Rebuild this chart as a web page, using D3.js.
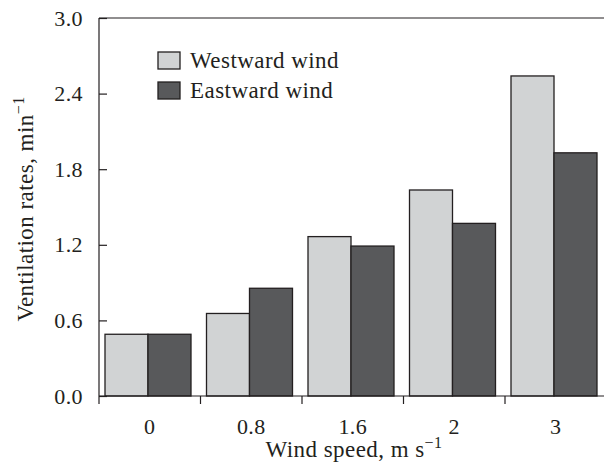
<!DOCTYPE html>
<html>
<head>
<meta charset="utf-8">
<script src="https://cdn.jsdelivr.net/npm/d3@7"></script>
<style>
    body { margin: 0; background: #fff; }
    text { font-family: "Liberation Serif", "Times New Roman", serif; fill: #231f20; }
</style>
</head>
<body>
<svg id="chart" width="604" height="470"></svg>
<script>
// Data
var speeds = ['0', '0.8', '1.6', '2', '3'];
var seriesNames = ['Westward wind', 'Eastward wind'];
var westward = [0.49, 0.655, 1.265, 1.635, 2.54];
var eastward = [0.49, 0.855, 1.19, 1.37, 1.93];
var yTicks = [0.0, 0.6, 1.2, 1.8, 2.4, 3.0];

var COLORS = ['#d1d3d4', '#58595b'],
    INK = '#231f20',
    TICK_SIZE = 22,
    LABEL_SIZE = 23,
    SPACING = 0.45,
    PLOT = { left: 99, right: 606.5, top: 18, bottom: 396 };

var svg = d3.select('#chart');

var rows = speeds.map(function(s, i) {
    return { speed: s, values: [westward[i], eastward[i]] };
});

var x = d3.scaleBand()
    .domain(speeds)
    .range([PLOT.left, PLOT.right])
    .padding(0);

// Bars sit slightly left of centre inside each category
var x1 = d3.scaleBand()
    .domain([0, 1])
    .range([6, 6 + 86])
    .padding(0);

var y = d3.scaleLinear()
    .domain([0, 3])
    .range([PLOT.bottom, PLOT.top]);

// Bars
var groups = svg.append('g')
    .selectAll('g')
    .data(rows)
    .enter()
    .append('g')
    .attr('transform', function(d) { return 'translate(' + x(d.speed) + ',0)'; });

groups.selectAll('rect')
    .data(function(d) { return d.values; })
    .enter()
    .append('rect')
    .attr('x', function(d, i) { return x1(i); })
    .attr('y', function(d) { return y(d); })
    .attr('width', x1.bandwidth())
    .attr('height', function(d) { return y(0) - y(d); })
    .attr('fill', function(d, i) { return COLORS[i]; })
    .attr('stroke', INK)
    .attr('stroke-width', 1.3);

// Frame: left, top and bottom lines
svg.append('line')
    .attr('x1', PLOT.left).attr('x2', PLOT.left)
    .attr('y1', PLOT.top).attr('y2', PLOT.bottom + 8)
    .attr('stroke', INK).attr('stroke-width', 1.2);

svg.append('line')
    .attr('x1', PLOT.left).attr('x2', 604)
    .attr('y1', PLOT.top).attr('y2', PLOT.top)
    .attr('stroke', INK).attr('stroke-width', 1.2);

svg.append('line')
    .attr('x1', PLOT.left).attr('x2', 604)
    .attr('y1', PLOT.bottom).attr('y2', PLOT.bottom)
    .attr('stroke', INK).attr('stroke-width', 1.2);

// Y axis, ticks pointing inward
var yAxis = svg.append('g')
    .attr('transform', 'translate(' + PLOT.left + ',0)')
    .call(d3.axisLeft(y)
        .tickValues(yTicks)
        .tickFormat(d3.format('.1f'))
        .tickSize(-8)
        .tickPadding(16));

yAxis.attr('font-family', null);
yAxis.select('.domain').remove();
yAxis.selectAll('line').attr('stroke', INK).attr('stroke-width', 1.2);
yAxis.selectAll('text')
    .attr('font-size', TICK_SIZE)
    .attr('letter-spacing', 0.4)
    .attr('fill', INK);

// X axis: labels at centres, ticks at category boundaries
var xAxis = svg.append('g')
    .attr('transform', 'translate(0,' + PLOT.bottom + ')')
    .call(d3.axisBottom(x).tickSize(0).tickPadding(0));

xAxis.attr('font-family', null);
xAxis.select('.domain').remove();
xAxis.selectAll('text')
    .attr('y', 38)
    .attr('dy', null)
    .attr('font-size', TICK_SIZE)
    .attr('letter-spacing', 0.4)
    .attr('fill', INK);

svg.append('g')
    .selectAll('line')
    .data(speeds.slice(1))
    .enter()
    .append('line')
    .attr('x1', function(d) { return x(d); })
    .attr('x2', function(d) { return x(d); })
    .attr('y1', PLOT.bottom)
    .attr('y2', PLOT.bottom + 8)
    .attr('stroke', INK)
    .attr('stroke-width', 1.2);

// Axis titles with superscript -1
var xTitle = svg.append('text')
    .attr('x', 354)
    .attr('y', 457)
    .attr('text-anchor', 'middle')
    .attr('letter-spacing', SPACING)
    .attr('font-size', LABEL_SIZE);
xTitle.append('tspan').text('Wind speed, m s');
xTitle.append('tspan').attr('dy', -9).attr('font-size', 16).text('\u22121');

var yTitle = svg.append('text')
    .attr('transform', 'translate(33,' + 209 + ') rotate(-90)')
    .attr('text-anchor', 'middle')
    .attr('letter-spacing', SPACING)
    .attr('font-size', LABEL_SIZE);
yTitle.append('tspan').text('Ventilation rates, min');
yTitle.append('tspan').attr('dy', -9).attr('font-size', 16).text('\u22121');

// Legend
var legend = svg.append('g')
    .selectAll('g')
    .data(seriesNames)
    .enter()
    .append('g')
    .attr('transform', function(d, i) { return 'translate(158,' + (52 + i * 30) + ')'; });

legend.append('rect')
    .attr('width', 22)
    .attr('height', 17)
    .attr('fill', function(d, i) { return COLORS[i]; })
    .attr('stroke', INK)
    .attr('stroke-width', 1.3);

legend.append('text')
    .attr('x', 32)
    .attr('y', 16)
    .attr('letter-spacing', SPACING)
    .attr('font-size', LABEL_SIZE)
    .text(function(d) { return d; });
</script>
</body>
</html>
